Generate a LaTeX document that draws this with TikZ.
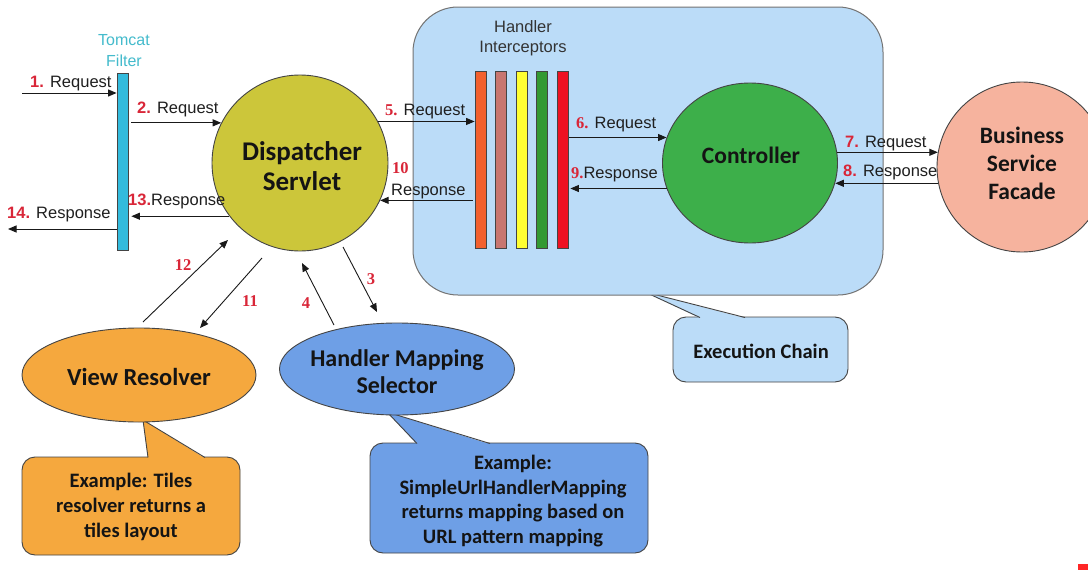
\documentclass[tikz,border=0pt]{standalone}
\usepackage{fontspec}
\setmainfont{Liberation Sans}
\newfontfamily\cali{Carlito}
\newfontfamily\tmsf{Liberation Serif}
\usetikzlibrary{shapes.geometric,arrows.meta,calc}
\definecolor{numred}{HTML}{D92638}
\definecolor{tomcyan}{HTML}{33BBDD}
\definecolor{tomtxt}{HTML}{44BBCC}
\definecolor{dsy}{HTML}{CCC63A}
\definecolor{ctrlg}{HTML}{3DAF4A}
\definecolor{bsfs}{HTML}{F6B39E}
\definecolor{vro}{HTML}{F5A83E}
\definecolor{hmsb}{HTML}{6E9FE6}
\definecolor{execb}{HTML}{BBDCF8}
\definecolor{bord}{HTML}{444444}
\definecolor{ic1}{HTML}{F2602E}
\definecolor{ic2}{HTML}{C87670}
\definecolor{ic3}{HTML}{FFFF33}
\definecolor{ic4}{HTML}{339933}
\definecolor{ic5}{HTML}{EE1122}
\newcommand\fsz[2]{\fontsize{#1}{#2}\selectfont}
\newcommand\rn[1]{\textcolor{numred}{\bfseries #1}}
\newcommand\rs[1]{\textcolor{numred}{\tmsf\bfseries #1}}
\tikzset{
  arr/.style={line width=1pt, draw=black!90, -{Triangle[length=8.5pt,width=7pt]}},
  lbl/.style={font=\fsz{16.5}{19}, inner sep=0pt, text=black!88},
  rnum/.style={font=\fsz{16.5}{19}\tmsf\bfseries, inner sep=0pt, text=numred},
  bigtxt/.style={font=\cali\bfseries, inner sep=0pt, align=center, text=black!92},
  ibar/.style={draw=bord, line width=0.8pt, minimum width=11pt, minimum height=177pt, inner sep=0pt},
  shape border/.style={draw=bord, line width=0.9pt},
  callbox/.style={draw=bord, line width=0.9pt, rounded corners=13pt, inner sep=0pt},
}
\begin{document}
\begin{tikzpicture}[x=1pt,y=-1pt]
\useasboundingbox (0,0) rectangle (1088,570);
\clip (0,0) rectangle (1088,570);
\fill[white] (0,0) rectangle (1088,570);

% ---------- Execution chain callout (under big box)
\node[callbox, fill=execb, minimum width=175pt, minimum height=65pt] (execc) at (760.5,349.5) {};
\fill[execb] (700,318.2) -- (645,292) -- (745,318.2) -- cycle;
\draw[bord, line width=0.9pt] (700,317.5) -- (645,292) -- (745,317.5);
\node[bigtxt, font=\fsz{20.5}{24}\cali\bfseries] (exect) at (761,351) {Execution Chain};

% ---------- Big execution box
\node[draw=black!55, line width=1pt, fill=execb, rounded corners=45pt, minimum width=470pt, minimum height=288pt, inner sep=0pt] (exec) at (648,151) {};

% ---------- Interceptors
\node[font=\fsz{16.5}{20}, text=black!80, align=center, inner sep=0pt] (hint) at (523,38) {Handler\\Interceptors};
\node[ibar, fill=ic1] (b1) at (480.5,159.5) {};
\node[ibar, fill=ic2] (b2) at (500.5,159.5) {};
\node[ibar, fill=ic3] (b3) at (521.5,159.5) {};
\node[ibar, fill=ic4] (b4) at (541.5,159.5) {};
\node[ibar, fill=ic5] (b5) at (562.5,159.5) {};

% ---------- Tomcat filter
\node[font=\fsz{16}{21}, text=tomtxt, align=center, inner sep=0pt] (tomt) at (124,51) {Tomcat\\Filter};
\node[ibar, fill=tomcyan] (bar) at (122.5,161.5) {};

% ---------- Circles
\node[circle, shape border, fill=dsy, minimum size=176pt, inner sep=0pt] (ds) at (300,163) {};
\node[bigtxt, font=\fsz{27}{30}\cali\bfseries] (dst) at (302,166) {Dispatcher\\Servlet};
\node[ellipse, shape border, fill=ctrlg, minimum width=175pt, minimum height=160pt, inner sep=0pt] (ctrl) at (750,163) {};
\node[bigtxt, font=\fsz{23.5}{27}\cali\bfseries] (ctrlt) at (751,155) {Controller};
\node[circle, shape border, fill=bsfs, minimum size=170pt, inner sep=0pt] (bsf) at (1022,167) {};
\node[bigtxt, font=\fsz{23.5}{28}\cali\bfseries] (bsft) at (1022,163) {Business\\Service\\Facade};

% ---------- Callouts (bottom)
\node[callbox, fill=vro, minimum width=218pt, minimum height=98pt] (vrc) at (131,506) {};
\fill[vro] (148,458.2) -- (143,420) -- (205,458.2) -- cycle;
\draw[bord, line width=0.9pt] (148,457.5) -- (143,420) -- (205,457.5);
\node[bigtxt, font=\fsz{20.5}{25}\cali\bfseries] (vrct) at (131,507) {Example: Tiles\\resolver returns a\\tiles layout};

\node[callbox, fill=hmsb, minimum width=278pt, minimum height=110pt] (hmsc) at (509,498) {};
\fill[hmsb] (417,444.2) -- (387,412) -- (490,444.2) -- cycle;
\draw[bord, line width=0.9pt] (417,443.5) -- (387,412) -- (490,443.5);
\node[bigtxt, font=\fsz{20.5}{24.5}\cali\bfseries] (hmsct) at (513,501) {Example:\\SimpleUrlHandlerMapping\\returns mapping based on\\URL pattern mapping};

% ---------- Ellipses
\node[ellipse, shape border, fill=vro, minimum width=234pt, minimum height=94pt, inner sep=0pt] (vr) at (139,375) {};
\node[bigtxt, font=\fsz{24.5}{27}\cali\bfseries] (vrt) at (139,377) {View Resolver};
\node[ellipse, shape border, fill=hmsb, minimum width=235pt, minimum height=92pt, inner sep=0pt] (hms) at (397,369) {};
\node[bigtxt, font=\fsz{24}{27}\cali\bfseries] (hmst) at (397,372) {Handler Mapping\\Selector};

% ---------- Horizontal arrows
\coordinate (in1) at (22,93);
\coordinate (out14) at (8,229);
\draw[arr] (in1) -- (in1 -| bar.west);
\draw[arr] ($(bar.east |- ds.153)+(3,0)$) -- (ds.153);
\draw[arr] (ds.217) -- ($(bar.east |- ds.217)+(3,0)$);
\draw[arr] (bar.west |- out14) -- (out14);
\draw[arr] (ds.28) -- (ds.28 -| b1.west);
\draw[arr] ($(b1.west |- ds.335)+(-2,0)$) -- (ds.335);
\draw[arr] ($(b5.east |- ctrl.163)+(1,0)$) -- (ctrl.163);
\draw[arr] (ctrl.197) -- ($(ctrl.197 -| b5.east)+(2,0)$);
\draw[arr] (ctrl.7) -- (ctrl.7 -| bsf.170);
\draw[arr] (bsf.191) -- (bsf.191 -| ctrl.347);

% ---------- Diagonal arrows
\draw[arr, line width=0.9pt] ($(vr)+(4,-53)$) -- ($(ds)+(-72,77)$);
\draw[arr, line width=0.9pt] ($(ds)+(-38,95)$) -- ($(vr)+(61,-47)$);
\draw[arr, line width=0.9pt] ($(hms)+(-63,-44)$) -- ($(ds)+(2,100)$);
\draw[arr, line width=0.9pt] ($(ds)+(43,84)$) -- ($(hms)+(-20,-57)$);

% ---------- Labels
\node[lbl, anchor=base west] (l1) at (30,87) {\rn{1.} Request};
\node[lbl, anchor=base west] (l2) at (137,113) {\rn{2.} Request};
\node[lbl, anchor=base west] (l13) at (128,205) {\rn{13.}Response};
\node[lbl, anchor=base west] (l14) at (7,218) {\rn{14.} Response};
\node[lbl, anchor=base west] (l5) at (385,115) {\rs{5.} Request};
\node[rnum, anchor=base west] (l10) at (392,173) {10};
\node[lbl, anchor=base west] (l10b) at (391,195) {Response};
\node[lbl, anchor=base west] (l6) at (576,128) {\rs{6.} Request};
\node[lbl, anchor=base west] (l9) at (571,178) {\rs{9.}Response};
\node[lbl, anchor=base west] (l7) at (845,147) {\rn{7.} Request};
\node[lbl, anchor=base west] (l8) at (843,176) {\rn{8.} Response};
\node[rnum] (l12) at (183,265) {12};
\node[rnum] (l11) at (250,301) {11};
\node[rnum] (l4) at (306,303) {4};
\node[rnum] (l3) at (371,279) {3};

% ---------- corner mark
\fill[red!85] (1078,564) rectangle (1088,570);
\end{tikzpicture}
\end{document}
